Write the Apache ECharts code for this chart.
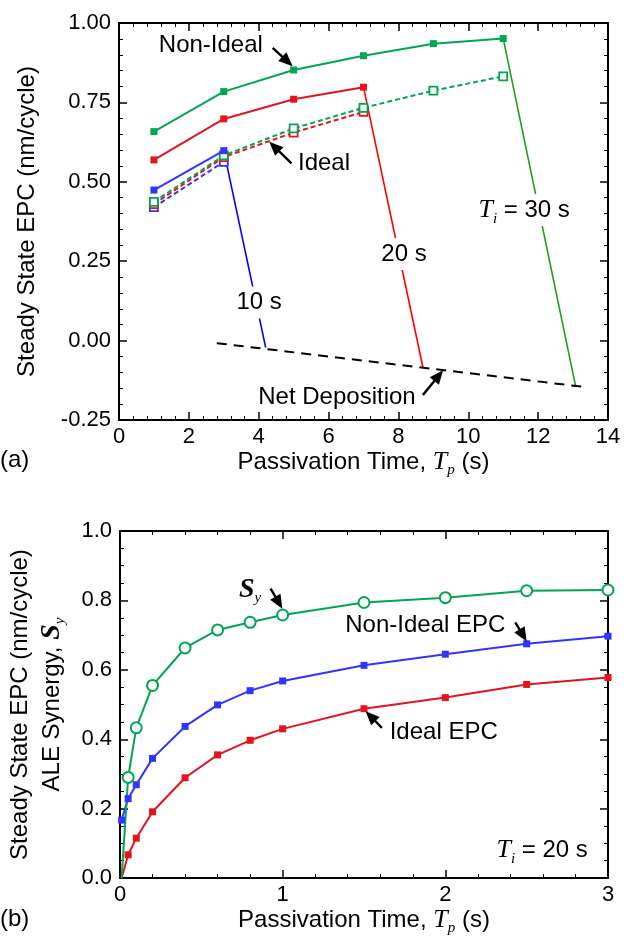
<!DOCTYPE html>
<html>
<head>
<meta charset="utf-8">
<script src="https://cdn.jsdelivr.net/npm/echarts@6/dist/echarts.min.js"></script>
<style>
  html, body { margin: 0; padding: 0; background: #fff; }
  #chart { width: 631px; height: 937px; }
</style>
</head>
<body>
<div id="chart"></div>
<script>
// panel (a): steady state EPC vs passivation time
const tpA = [1, 3, 5, 7, 9, 11];
const nonIdeal30 = [0.658, 0.784, 0.852, 0.897, 0.935, 0.951];
const nonIdeal20 = [0.569, 0.698, 0.760, 0.798];
const nonIdeal10 = [0.474, 0.598];
const ideal30 = [0.437, 0.583, 0.668, 0.733, 0.787, 0.832];
const ideal20 = [0.430, 0.578, 0.655, 0.720];
const ideal10 = [0.420, 0.563];
// end of each Ti curve on the net deposition line (10 s, 20 s, 30 s)
const dropTp = [4.2, 8.7, 13.07];
const dropEpc = [-0.022, -0.084, -0.142];
const netDepTp = [2.8, 13.25];
const netDepEpc = [-0.008, -0.145];

// panel (b): Ti = 20 s
const tpB = [0.01, 0.05, 0.1, 0.2, 0.4, 0.6, 0.8, 1.0, 1.5, 2.0, 2.5, 3.0];
const synergy = [0, 0.29, 0.433, 0.555, 0.663, 0.715, 0.737, 0.758, 0.794, 0.808, 0.828, 0.830];
const nonIdealEpc = [0.167, 0.229, 0.269, 0.345, 0.437, 0.499, 0.540, 0.568, 0.613, 0.645, 0.675, 0.697];
const idealEpc = [0, 0.067, 0.115, 0.191, 0.289, 0.355, 0.397, 0.430, 0.488, 0.520, 0.558, 0.578];

const GREEN = '#00a651', RED = '#e3141e', BLUE = '#3333ff';
const SANS = 'Liberation Sans', SERIF = 'Liberation Serif';

// points sitting on the bottom axis are clipped away in the original
const zip = (xs, ys) => ys.map((y, i) => y === 0 ? { value: [xs[i], y], symbol: 'none' } : [xs[i], y]);

const rich = {
    n: { fontFamily: SANS, fontSize: 24, color: '#000', lineHeight: 32 },
    t: { fontFamily: SERIF, fontStyle: 'italic', fontSize: 26, color: '#000', lineHeight: 32 },
    s: { fontFamily: SERIF, fontStyle: 'italic', fontSize: 15, color: '#000', verticalAlign: 'bottom' },
    b: { fontFamily: SERIF, fontStyle: 'italic', fontWeight: 'bold', fontSize: 28, color: '#000', lineHeight: 32 }
};

function xAxisOf(grid, max, interval, top) {
    return {
        type: 'value', gridIndex: grid, min: 0, max: max, interval: interval,
        position: top ? 'top' : 'bottom',
        axisLine: { show: true, onZero: false, lineStyle: { color: '#000', width: 2 } },
        axisTick: { show: true, inside: true, length: 8, lineStyle: { color: '#000', width: 1.5 } },
        minorTick: { show: true, splitNumber: 5, length: 4, lineStyle: { color: '#000', width: 1 } },
        axisLabel: { show: !top, color: '#000', fontFamily: SANS, fontSize: 22, margin: 6 },
        splitLine: { show: false }
    };
}

function yAxisOf(grid, min, max, interval, minor, digits, right) {
    return {
        type: 'value', gridIndex: grid, min: min, max: max, interval: interval,
        position: right ? 'right' : 'left',
        axisLine: { show: true, onZero: false, lineStyle: { color: '#000', width: 2 } },
        axisTick: { show: true, inside: true, length: 8, lineStyle: { color: '#000', width: 1.5 } },
        minorTick: { show: true, splitNumber: minor, length: 4, lineStyle: { color: '#000', width: 1 } },
        axisLabel: { show: !right, color: '#000', fontFamily: SANS, fontSize: 22, margin: 8,
            formatter: v => v.toFixed(digits) },
        splitLine: { show: false }
    };
}

const xTitle = '{n|Passivation Time, }{t|T}{s|p}{n| (s)}';

const xAxes = [
    Object.assign(xAxisOf(0, 14, 2, false), { name: xTitle, nameLocation: 'middle', nameGap: 22, nameTextStyle: { rich: rich } }),
    xAxisOf(0, 14, 2, true),
    Object.assign(xAxisOf(1, 3, 1, false), { name: xTitle, nameLocation: 'middle', nameGap: 25, nameTextStyle: { rich: rich } }),
    xAxisOf(1, 3, 1, true)
];
const yAxes = [
    Object.assign(yAxisOf(0, -0.25, 1, 0.25, 5, 2, false), {
        name: '{n|Steady State EPC (nm/cycle)}', nameLocation: 'middle', nameGap: 76, nameTextStyle: { rich: rich } }),
    yAxisOf(0, -0.25, 1, 0.25, 5, 2, true),
    Object.assign(yAxisOf(1, 0, 1, 0.2, 4, 1, false), {
        name: '{n|Steady State EPC (nm/cycle)}\n{n|ALE Synergy, }{b|S}{s|y}', nameLocation: 'middle', nameGap: 52,
        nameTextStyle: { rich: rich } }),
    yAxisOf(1, 0, 1, 0.2, 4, 1, true)
];

function solid(data, color, ax) {
    return { type: 'line', xAxisIndex: ax, yAxisIndex: ax, data: data, symbol: 'rect', symbolSize: 7,
        itemStyle: { color: color }, lineStyle: { color: color, width: 2 }, z: 5 };
}
function dashed(data, color) {
    return { type: 'line', xAxisIndex: 0, yAxisIndex: 0, data: data, symbol: 'rect', symbolSize: 8,
        itemStyle: { color: '#fff', borderColor: color, borderWidth: 1.8 },
        lineStyle: { color: color, width: 2, type: [5, 3] }, z: 4 };
}
function drop(from, i, color) {
    return { type: 'line', xAxisIndex: 0, yAxisIndex: 0, symbol: 'none',
        data: [from, [dropTp[i], dropEpc[i]]], lineStyle: { color: color, width: 1.6 }, z: 3 };
}

const series = [
    dashed(zip(tpA, ideal10), BLUE),
    dashed(zip(tpA, ideal20), RED),
    dashed(zip(tpA, ideal30), GREEN),
    drop([tpA[1], nonIdeal10[1]], 0, '#0000ff'),
    drop([tpA[3], nonIdeal20[3]], 1, '#ff0000'),
    drop([tpA[5], nonIdeal30[5]], 2, '#1aa31a'),
    solid(zip(tpA, nonIdeal10), BLUE, 0),
    solid(zip(tpA, nonIdeal20), RED, 0),
    solid(zip(tpA, nonIdeal30), GREEN, 0),
    { type: 'line', xAxisIndex: 0, yAxisIndex: 0, symbol: 'none', data: zip(netDepTp, netDepEpc),
        lineStyle: { color: '#000', width: 2, type: [10, 7] }, z: 3 },
    // panel (b)
    solid(zip(tpB, idealEpc), RED, 2),
    solid(zip(tpB, nonIdealEpc), BLUE, 2),
    { type: 'line', xAxisIndex: 2, yAxisIndex: 2, data: zip(tpB, synergy), symbol: 'circle', symbolSize: 11,
        itemStyle: { color: '#fff', borderColor: GREEN, borderWidth: 2 }, lineStyle: { color: GREEN, width: 2 }, z: 5 }
];

const chart = echarts.init(document.getElementById('chart'), null, { renderer: 'canvas' });
chart.setOption({
    animation: false,
    backgroundColor: '#fff',
    grid: [
        { left: 119, top: 23, width: 489, height: 397 },
        { left: 119, top: 531, width: 489, height: 351 }
    ],
    xAxis: xAxes,
    yAxis: yAxes,
    series: series
});

// annotations, placed in data coordinates
const notesA = [
    { text: '{n|Non-Ideal}', at: [2.63, 0.93] },
    { text: '{n|Ideal}', at: [5.87, 0.559] },
    { text: '{n|10 s}', at: [4.01, 0.12], bg: true },
    { text: '{n|20 s}', at: [8.16, 0.273], bg: true },
    { text: '{t|T}{s|i}{n| = 30 s}', at: [11.6, 0.411], bg: true },
    { text: '{n|Net Deposition}', at: [6.24, -0.178] }
];
const arrowsA = [
    [[4.40, 0.922], [4.97, 0.864]],
    [[4.94, 0.558], [4.30, 0.626]],
    [[8.70, -0.171], [9.28, -0.093]]
];
const notesB = [
    { text: '{b|S}{s|y}', at: [0.80, 0.832] },
    { text: '{n|Non-Ideal EPC}', at: [1.877, 0.729] },
    { text: '{n|Ideal EPC}', at: [1.99, 0.42] },
    { text: '{t|T}{s|i}{n| = 20 s}', at: [2.595, 0.08] }
];
const arrowsB = [
    [[0.926, 0.834], [0.998, 0.776]],
    [[2.43, 0.737], [2.50, 0.682]],
    [[1.61, 0.433], [1.51, 0.481]]
];

function arrow(p0, p1) {
    const dx = p1[0] - p0[0], dy = p1[1] - p0[1];
    const L = Math.hypot(dx, dy), ux = dx / L, uy = dy / L;
    const hl = 14, hw = 6;
    const bx = p1[0] - ux * hl, by = p1[1] - uy * hl;
    return [
        { type: 'line', z: 100, shape: { x1: p0[0], y1: p0[1], x2: bx + ux * 2, y2: by + uy * 2 },
            style: { stroke: '#000', lineWidth: 2.4 } },
        { type: 'polygon', z: 100, shape: { points: [p1, [bx - uy * hw, by + ux * hw], [bx + uy * hw, by - ux * hw]] },
            style: { fill: '#000' } }
    ];
}

const graphics = [];
function addNotes(notes, arrows, grid) {
    notes.forEach(n => {
        const p = chart.convertToPixel({ gridIndex: grid }, n.at);
        graphics.push({ type: 'text', z: 100, x: p[0], y: p[1], style: {
            text: n.text, rich: rich, align: 'center', verticalAlign: 'middle',
            backgroundColor: n.bg ? '#fff' : null, padding: n.bg ? [0, 3] : 0 } });
    });
    arrows.forEach(a => {
        const p0 = chart.convertToPixel({ gridIndex: grid }, a[0]);
        const p1 = chart.convertToPixel({ gridIndex: grid }, a[1]);
        arrow(p0, p1).forEach(g => graphics.push(g));
    });
}
addNotes(notesA, arrowsA, 0);
addNotes(notesB, arrowsB, 1);

graphics.push({ type: 'text', z: 100, left: 0, top: 448, style: { text: '(a)', font: '24px "Liberation Sans"', fill: '#000' } });
graphics.push({ type: 'text', z: 100, left: 0, top: 907, style: { text: '(b)', font: '24px "Liberation Sans"', fill: '#000' } });

chart.setOption({ graphic: graphics });
</script>
</body>
</html>
